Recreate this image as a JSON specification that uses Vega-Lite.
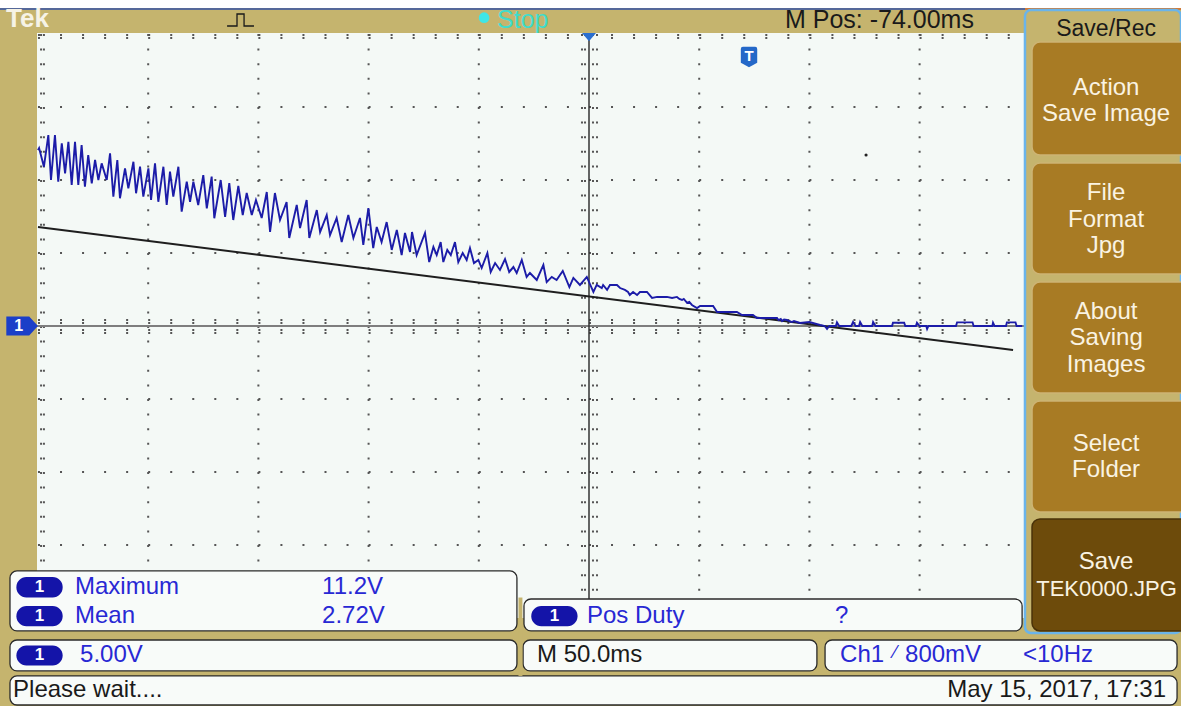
{
"$schema": "https://vega.github.io/schema/vega-lite/v6.json",
"width": 1181, "height": 706,
"autosize": {"type": "none"},
"padding": 0,
"background": "#C5B46E",
"config": {"view": {"stroke": null}, "font": "Liberation Sans"},
"encoding": {
  "x": {"field": "t", "type": "quantitative", "scale": {"domain": [-267.23, 268.59], "nice": false, "zero": false}, "axis": null},
  "y": {"field": "v", "type": "quantitative", "scale": {"domain": [-26.03, 22.33], "nice": false, "zero": false}, "axis": null}
},
"layer": [
  {"data": {"values": [{"t": -267.23, "t2": 268.59, "v": 22.33, "v2": 21.78}]},
   "mark": {"type": "rect", "fill": "#FFFFFF"}, "encoding": {"x2": {"field": "t2"}, "y2": {"field": "v2"}}},
  {"data": {"values": [{"t": -267.23, "t2": 197.81, "v": 21.72}]},
   "mark": {"type": "rule", "stroke": "#2F4FA8", "strokeWidth": 1.5}, "encoding": {"x2": {"field": "t2"}}},
  {"data": {"values": [{"t": 197.81, "t2": 268.59, "v": 21.72}]},
   "mark": {"type": "rule", "stroke": "#D0682A", "strokeWidth": 1.5}, "encoding": {"x2": {"field": "t2"}}},
  {"data": {"values": [{"t": -250.44, "t2": 197.81, "v": 20.07, "v2": -20.0}]},
   "mark": {"type": "rect", "fill": "#F4F9F6"}, "encoding": {"x2": {"field": "t2"}, "y2": {"field": "v2"}}},
  {"data": {"values": [{"t": -200, "v": 20, "v2": -20}, {"t": -150, "v": 20, "v2": -20}, {"t": -100, "v": 20, "v2": -20}, {"t": -50, "v": 20, "v2": -20}, {"t": 50, "v": 20, "v2": -20}, {"t": 100, "v": 20, "v2": -20}, {"t": 150, "v": 20, "v2": -20}, {"t": -248.6, "v": 20, "v2": -20}, {"t": -247.3, "v": 20, "v2": -20}, {"t": -3.18, "v": 20, "v2": -20}, {"t": -1.81, "v": 20, "v2": -20}, {"t": 1.81, "v": 20, "v2": -20}, {"t": 3.63, "v": 20, "v2": -20}]},
   "mark": {"type": "rule", "stroke": "#555555", "strokeWidth": 2, "strokeDash": [2, 12.6], "strokeCap": "butt"}, "encoding": {"y2": {"field": "v2"}}},
  {"data": {"values": [{"v": 15, "t": -250, "t2": 197.8}, {"v": 10, "t": -250, "t2": 197.8}, {"v": 5, "t": -250, "t2": 197.8}, {"v": -5, "t": -250, "t2": 197.8}, {"v": -10, "t": -250, "t2": 197.8}, {"v": -15, "t": -250, "t2": 197.8}, {"v": 0.41, "t": -250, "t2": 197.8}, {"v": 0.21, "t": -250, "t2": 197.8}, {"v": -0.27, "t": -250, "t2": 197.8}, {"v": -0.48, "t": -250, "t2": 197.8}, {"v": 19.93, "t": -250, "t2": 197.8}, {"v": 19.73, "t": -250, "t2": 197.8}]},
   "mark": {"type": "rule", "stroke": "#555555", "strokeWidth": 2, "strokeDash": [2, 20.04], "strokeCap": "butt"}, "encoding": {"x2": {"field": "t2"}}},
  {"data": {"values": [{"v": 0, "t": -250.4, "t2": 197.8}]},
   "mark": {"type": "rule", "stroke": "#7E7E7E", "strokeWidth": 2}, "encoding": {"x2": {"field": "t2"}}},
  {"data": {"values": [{"t": 0, "v": 20.07, "v2": -20}]},
   "mark": {"type": "rule", "stroke": "#333333", "strokeWidth": 1.5}, "encoding": {"y2": {"field": "v2"}}},
  {"data": {"values": [{"t": -250.0, "v": 6.78}, {"t": 192.4, "v": -1.64}]},
   "mark": {"type": "line", "stroke": "#1E1E1E", "strokeWidth": 2}, "encoding": {}},
  {"data": {"values": [
    {"t":-250.0,"v":12.05},{"t":-249.5,"v":12.19},{"t":-247.3,"v":10.91},{"t":-245.3,"v":13.08},{"t":-244.1,"v":10.0},{"t":-242.3,"v":13.08},{"t":-240.8,"v":9.88},{"t":-239.2,"v":12.51},{"t":-237.7,"v":10.46},{"t":-236.2,"v":12.62},{"t":-234.7,"v":9.66},{"t":-233.2,"v":12.62},{"t":-231.7,"v":9.66},{"t":-230.2,"v":12.4},{"t":-228.7,"v":9.54},{"t":-227.2,"v":11.71},{"t":-225.6,"v":9.77},{"t":-224.1,"v":11.37},{"t":-222.6,"v":10.0},{"t":-221.1,"v":11.14},{"t":-218.8,"v":10.0},{"t":-217.3,"v":11.83},{"t":-215.8,"v":8.86},{"t":-214.0,"v":11.37},{"t":-212.8,"v":8.75},{"t":-210.5,"v":10.8},{"t":-209.0,"v":9.43},{"t":-206.7,"v":11.25},{"t":-205.5,"v":9.09},{"t":-203.7,"v":10.91},{"t":-202.2,"v":8.86},{"t":-199.9,"v":10.8},{"t":-198.7,"v":8.63},{"t":-196.9,"v":11.14},{"t":-195.4,"v":8.51},{"t":-193.1,"v":10.91},{"t":-191.6,"v":8.29},{"t":-190.1,"v":10.57},{"t":-188.6,"v":8.86},{"t":-186.3,"v":10.91},{"t":-184.8,"v":7.83},{"t":-182.5,"v":9.88},{"t":-181.0,"v":8.51},{"t":-179.5,"v":9.88},{"t":-177.3,"v":8.29},{"t":-175.0,"v":10.34},{"t":-173.4,"v":8.06},{"t":-171.2,"v":10.23},{"t":-170.0,"v":7.38},{"t":-167.1,"v":10.0},{"t":-165.1,"v":7.47},{"t":-163.2,"v":9.79},{"t":-161.4,"v":7.26},{"t":-159.1,"v":9.59},{"t":-157.1,"v":7.6},{"t":-155.3,"v":9.11},{"t":-153.0,"v":7.6},{"t":-151.1,"v":8.63},{"t":-148.5,"v":7.4},{"t":-146.2,"v":9.18},{"t":-144.7,"v":6.44},{"t":-142.5,"v":9.11},{"t":-140.2,"v":7.26},{"t":-137.2,"v":8.49},{"t":-136.0,"v":6.03},{"t":-132.6,"v":8.29},{"t":-131.1,"v":6.71},{"t":-128.1,"v":8.63},{"t":-126.9,"v":6.03},{"t":-123.5,"v":7.94},{"t":-122.0,"v":6.44},{"t":-119.0,"v":7.6},{"t":-117.5,"v":6.23},{"t":-114.5,"v":7.4},{"t":-112.2,"v":5.75},{"t":-109.2,"v":7.6},{"t":-106.9,"v":6.03},{"t":-103.9,"v":7.4},{"t":-102.4,"v":5.55},{"t":-100.1,"v":8.08},{"t":-97.9,"v":5.34},{"t":-96.3,"v":6.78},{"t":-94.1,"v":5.75},{"t":-91.8,"v":7.12},{"t":-89.5,"v":5.21},{"t":-87.2,"v":6.58},{"t":-85.0,"v":4.86},{"t":-83.5,"v":6.37},{"t":-81.2,"v":5.07},{"t":-80.3,"v":6.44},{"t":-78.2,"v":4.86},{"t":-74.4,"v":6.37},{"t":-72.5,"v":4.38},{"t":-70.6,"v":5.41},{"t":-69.1,"v":4.86},{"t":-67.3,"v":5.75},{"t":-66.1,"v":4.38},{"t":-64.3,"v":5.21},{"t":-62.7,"v":4.86},{"t":-60.8,"v":5.75},{"t":-59.3,"v":4.38},{"t":-57.3,"v":5.0},{"t":-55.5,"v":4.52},{"t":-54.0,"v":5.34},{"t":-52.2,"v":4.31},{"t":-50.2,"v":4.52},{"t":-48.7,"v":3.97},{"t":-46.1,"v":5.0},{"t":-44.6,"v":3.7},{"t":-42.6,"v":4.31},{"t":-40.4,"v":3.84},{"t":-38.1,"v":4.59},{"t":-36.2,"v":3.7},{"t":-34.3,"v":4.04},{"t":-32.8,"v":3.63},{"t":-30.5,"v":4.52},{"t":-28.3,"v":3.36},{"t":-26.8,"v":3.63},{"t":-23.7,"v":3.15},{"t":-20.7,"v":4.18},{"t":-19.2,"v":3.01},{"t":-16.9,"v":3.36},{"t":-14.7,"v":3.15},{"t":-11.9,"v":3.77},{"t":-8.9,"v":2.67},{"t":-7.1,"v":3.29},{"t":-4.1,"v":2.81},{"t":-1.0,"v":3.36},{"t":2.0,"v":2.33},{"t":3.5,"v":2.81},{"t":5.8,"v":2.6},{"t":6.4,"v":2.81},{"t":8.2,"v":2.47},{"t":9.5,"v":2.81},{"t":12.7,"v":2.81},{"t":14.1,"v":2.6},{"t":16.3,"v":2.47},{"t":17.7,"v":2.33},{"t":18.5,"v":2.12},{"t":20.0,"v":2.33},{"t":21.8,"v":2.12},{"t":23.1,"v":2.33},{"t":26.3,"v":2.33},{"t":28.6,"v":1.92},{"t":30.9,"v":1.99},{"t":35.4,"v":1.99},{"t":37.7,"v":1.92},{"t":39.9,"v":1.99},{"t":41.0,"v":1.85},{"t":42.2,"v":1.78},{"t":43.0,"v":1.85},{"t":44.5,"v":1.58},{"t":45.5,"v":1.65},{"t":46.7,"v":1.44},{"t":49.0,"v":1.23},{"t":50.4,"v":1.37},{"t":56.3,"v":1.37},{"t":58.1,"v":0.96},{"t":67.1,"v":0.96},{"t":69.4,"v":0.75},{"t":74.4,"v":0.75},{"t":76.2,"v":0.55},{"t":85.3,"v":0.55},{"t":86.0,"v":0.41},{"t":87.0,"v":0.48},{"t":87.6,"v":0.34},{"t":88.5,"v":0.45},{"t":89.8,"v":0.41},{"t":92.0,"v":0.27},{"t":93.0,"v":0.34},{"t":95.7,"v":0.21},{"t":100.0,"v":0.27},{"t":104.8,"v":0.07},{"t":107.0,"v":0.0},{"t":108.0,"v":-0.2},{"t":109.0,"v":0.0},{"t":112.0,"v":0.0},{"t":112.5,"v":0.25},{"t":113.5,"v":0.0},{"t":119.0,"v":0.0},{"t":119.8,"v":0.27},{"t":121.0,"v":0.0},{"t":122.5,"v":0.0},{"t":123.0,"v":0.27},{"t":124.0,"v":0.0},{"t":128.5,"v":0.0},{"t":128.9,"v":0.27},{"t":130.0,"v":0.0},{"t":137.5,"v":0.0},{"t":137.9,"v":0.22},{"t":143.0,"v":0.22},{"t":143.5,"v":0.0},{"t":148.3,"v":0.0},{"t":148.8,"v":0.22},{"t":150.0,"v":0.0},{"t":153.0,"v":0.0},{"t":153.4,"v":-0.21},{"t":154.0,"v":0.0},{"t":166.5,"v":0.0},{"t":167.0,"v":0.25},{"t":174.0,"v":0.25},{"t":174.5,"v":0.0},{"t":183.0,"v":0.0},{"t":183.3,"v":0.22},{"t":184.0,"v":0.0},{"t":189.2,"v":0.0},{"t":189.6,"v":0.25},{"t":193.5,"v":0.25},{"t":194.0,"v":0.0},{"t":196.5,"v":0.0}
  ]},
   "mark": {"type": "line", "stroke": "#1C1CA8", "strokeWidth": 1.9}, "encoding": {}},
  {"data": {"values": [{"t": 0, "v": 19.79}]},
   "mark": {"type": "point", "shape": "M-1,-0.6 L1,-0.6 L0,0.6 Z", "size": 196, "filled": true, "fill": "#2A6FD0", "opacity": 1}},
  {"data": {"values": [{"t": 72.6, "v": 18.42}]},
   "mark": {"type": "point", "shape": "M-0.6,-1 L0.6,-1 Q0.8,-1 0.8,-0.8 L0.8,0.55 L0,1 L-0.8,0.55 L-0.8,-0.8 Q-0.8,-1 -0.6,-1 Z", "size": 420, "filled": true, "fill": "#2468C8", "opacity": 1}},
  {"data": {"values": [{"t": 72.6, "v": 18.5, "s": "T"}]},
   "mark": {"type": "text", "fontSize": 15, "fontWeight": "bold", "fill": "#FFFFFF", "align": "center", "baseline": "middle"}, "encoding": {"text": {"field": "s"}}},
  {"data": {"values": [{"t": 125.7, "v": 11.71}]},
   "mark": {"type": "point", "shape": "circle", "size": 10, "filled": true, "fill": "#222222", "opacity": 1}},
  {"data": {"values": [{"t": -257.2, "v": 0}]},
   "mark": {"type": "point", "shape": "M-1,-0.6 L0.45,-0.6 L1,0 L0.45,0.6 L-1,0.6 Z", "size": 1000, "filled": true, "fill": "#1B3FC8", "opacity": 1}},
  {"data": {"values": [{"t": -258.8, "v": 0.02, "s": "1"}]},
   "mark": {"type": "text", "fontSize": 16, "fontWeight": "bold", "fill": "#FFFFFF", "align": "center", "baseline": "middle"}, "encoding": {"text": {"field": "s"}}},
  {"data": {"values": [
    {"t": -262.7, "t2": -32.7, "v": -16.78, "v2": -20.89},
    {"t": -29.5, "t2": 196.5, "v": -18.70, "v2": -20.89},
    {"t": -262.7, "t2": -32.7, "v": -21.51, "v2": -23.63},
    {"t": -29.9, "t2": 103.4, "v": -21.51, "v2": -23.63},
    {"t": 107.1, "t2": 266.8, "v": -21.51, "v2": -23.63},
    {"t": -262.7, "t2": 266.8, "v": -23.97, "v2": -25.96}]},
   "mark": {"type": "rect", "fill": "#F8FBF9", "stroke": "#2A2A2A", "strokeWidth": 1.3, "cornerRadius": 7}, "encoding": {"x2": {"field": "t2"}, "y2": {"field": "v2"}}},
  {"data": {"values": [{"t": -32.0, "t2": -30.2, "v": -18.6, "v2": -23.97}]},
   "mark": {"type": "rect", "fill": "#C5B46E"}, "encoding": {"x2": {"field": "t2"}, "y2": {"field": "v2"}}},
  {"data": {"values": [
    {"t": -259.8, "t2": -238.8, "v": -17.2, "v2": -18.6},
    {"t": -259.8, "t2": -238.8, "v": -19.18, "v2": -20.56},
    {"t": -26.2, "t2": -5.2, "v": -19.18, "v2": -20.56},
    {"t": -259.8, "t2": -238.8, "v": -21.88, "v2": -23.26}]},
   "mark": {"type": "rect", "fill": "#1414A8", "cornerRadius": 10}, "encoding": {"x2": {"field": "t2"}, "y2": {"field": "v2"}}},
  {"data": {"values": [{"t": -249.3, "v": -17.9, "s": "1"}, {"t": -249.3, "v": -19.86, "s": "1"}, {"t": -15.7, "v": -19.86, "s": "1"}, {"t": -249.3, "v": -22.57, "s": "1"}]},
   "mark": {"type": "text", "fontSize": 17, "fontWeight": "bold", "fill": "#FFFFFF", "align": "center", "baseline": "middle"}, "encoding": {"text": {"field": "s"}}},
  {"data": {"values": [
    {"t": -233.2, "v": -17.88, "s": "Maximum"}, {"t": -233.2, "v": -19.86, "s": "Mean"},
    {"t": -121.1, "v": -17.88, "s": "11.2V"}, {"t": -121.1, "v": -19.86, "s": "2.72V"},
    {"t": -0.9, "v": -19.86, "s": "Pos Duty"}, {"t": 111.6, "v": -19.86, "s": "?"},
    {"t": -230.9, "v": -22.53, "s": "5.00V"}, {"t": 113.9, "v": -22.53, "s": "Ch1"},
    {"t": 143.4, "v": -22.53, "s": "800mV"},
    {"t": 196.9, "v": -22.53, "s": "<10Hz"}]},
   "mark": {"type": "text", "fontSize": 24, "fill": "#2828D4", "align": "left", "baseline": "middle"}, "encoding": {"text": {"field": "s"}}},
  {"data": {"values": [{"t": 139.0, "v": -22.4, "s": "\u2044"}]},
   "mark": {"type": "text", "fontSize": 18, "fill": "#2828D4", "align": "center", "baseline": "middle"}, "encoding": {"text": {"field": "s"}}},
  {"data": {"values": [{"t": -23.6, "v": -22.53, "s": "M 50.0ms"}, {"t": -261.3, "v": -24.93, "s": "Please wait...."}]},
   "mark": {"type": "text", "fontSize": 24, "fill": "#1A1A1A", "align": "left", "baseline": "middle"}, "encoding": {"text": {"field": "s"}}},
  {"data": {"values": [{"t": 261.8, "v": -24.93, "s": "May 15, 2017, 17:31"}]},
   "mark": {"type": "text", "fontSize": 24, "fill": "#1A1A1A", "align": "right", "baseline": "middle"}, "encoding": {"text": {"field": "s"}}},
  {"data": {"values": [{"t": 88.9, "v": 20.96, "s": "M Pos: -74.00ms"}]},
   "mark": {"type": "text", "fontSize": 25, "fill": "#1A1A1A", "align": "left", "baseline": "middle"}, "encoding": {"text": {"field": "s"}}},
  {"data": {"values": [{"t": -264.5, "v": 21.03, "s": "Tek"}]},
   "mark": {"type": "text", "fontSize": 26, "fontWeight": "bold", "fill": "#F6F3E6", "align": "left", "baseline": "middle"}, "encoding": {"text": {"field": "s"}}},
  {"data": {"values": [{"t": -41.7, "v": 20.96, "s": "Stop"}]},
   "mark": {"type": "text", "fontSize": 25, "fill": "#3FDCCB", "align": "left", "baseline": "middle"}, "encoding": {"text": {"field": "s"}}},
  {"data": {"values": [{"t": -47.6, "v": 21.12}]},
   "mark": {"type": "point", "shape": "circle", "size": 113, "filled": true, "fill": "#3FE6E6", "opacity": 1}},
  {"data": {"values": [{"i": 1, "t": -164.2, "v": 20.55}, {"i": 2, "t": -159.7, "v": 20.55}, {"i": 3, "t": -159.7, "v": 21.37}, {"i": 4, "t": -156.5, "v": 21.37}, {"i": 5, "t": -156.5, "v": 20.55}, {"i": 6, "t": -152.0, "v": 20.55}]},
   "mark": {"type": "line", "stroke": "#1A1A1A", "strokeWidth": 1.3}, "encoding": {"order": {"field": "i", "type": "quantitative"}}},
  {"data": {"values": [{"t": 197.8, "t2": 268.59, "v": 21.64, "v2": -21.03}]},
   "mark": {"type": "rect", "fill": "#C5B46E", "stroke": "#6AB4EA", "strokeWidth": 2.5, "cornerRadius": 6}, "encoding": {"x2": {"field": "t2"}, "y2": {"field": "v2"}}},
  {"data": {"values": [
    {"t": 201.0, "t2": 272, "v": 19.45, "v2": 11.71},
    {"t": 201.0, "t2": 272, "v": 11.16, "v2": 3.56},
    {"t": 201.0, "t2": 272, "v": 3.01, "v2": -4.59},
    {"t": 201.0, "t2": 272, "v": -5.14, "v2": -12.74}]},
   "mark": {"type": "rect", "fill": "#A87B24", "stroke": "#CDB474", "strokeWidth": 1.5, "cornerRadius": 8}, "encoding": {"x2": {"field": "t2"}, "y2": {"field": "v2"}}},
  {"data": {"values": [{"t": 201.0, "t2": 272, "v": -13.22, "v2": -20.89}]},
   "mark": {"type": "rect", "fill": "#6D4B0B", "stroke": "#4A3208", "strokeWidth": 1.5, "cornerRadius": 8}, "encoding": {"x2": {"field": "t2"}, "y2": {"field": "v2"}}},
  {"data": {"values": [{"t": 234.6, "v": 20.34, "s": "Save/Rec"}]},
   "mark": {"type": "text", "fontSize": 23, "fill": "#1A1A1A", "align": "center", "baseline": "middle"}, "encoding": {"text": {"field": "s"}}},
  {"data": {"values": [
    {"t": 234.6, "v": 16.30, "s": "Action"}, {"t": 234.6, "v": 14.52, "s": "Save Image"},
    {"t": 234.6, "v": 9.11, "s": "File"}, {"t": 234.6, "v": 7.26, "s": "Format"}, {"t": 234.6, "v": 5.48, "s": "Jpg"},
    {"t": 234.6, "v": 0.96, "s": "About"}, {"t": 234.6, "v": -0.82, "s": "Saving"}, {"t": 234.6, "v": -2.67, "s": "Images"},
    {"t": 234.6, "v": -8.08, "s": "Select"}, {"t": 234.6, "v": -9.86, "s": "Folder"},
    {"t": 234.6, "v": -16.16, "s": "Save"}]},
   "mark": {"type": "text", "fontSize": 24, "fill": "#FAF3E2", "align": "center", "baseline": "middle"}, "encoding": {"text": {"field": "s"}}},
  {"data": {"values": [{"t": 234.8, "v": -18.01, "s": "TEK0000.JPG"}]},
   "mark": {"type": "text", "fontSize": 22, "fill": "#FAF3E2", "align": "center", "baseline": "middle"}, "encoding": {"text": {"field": "s"}}}
]
}
